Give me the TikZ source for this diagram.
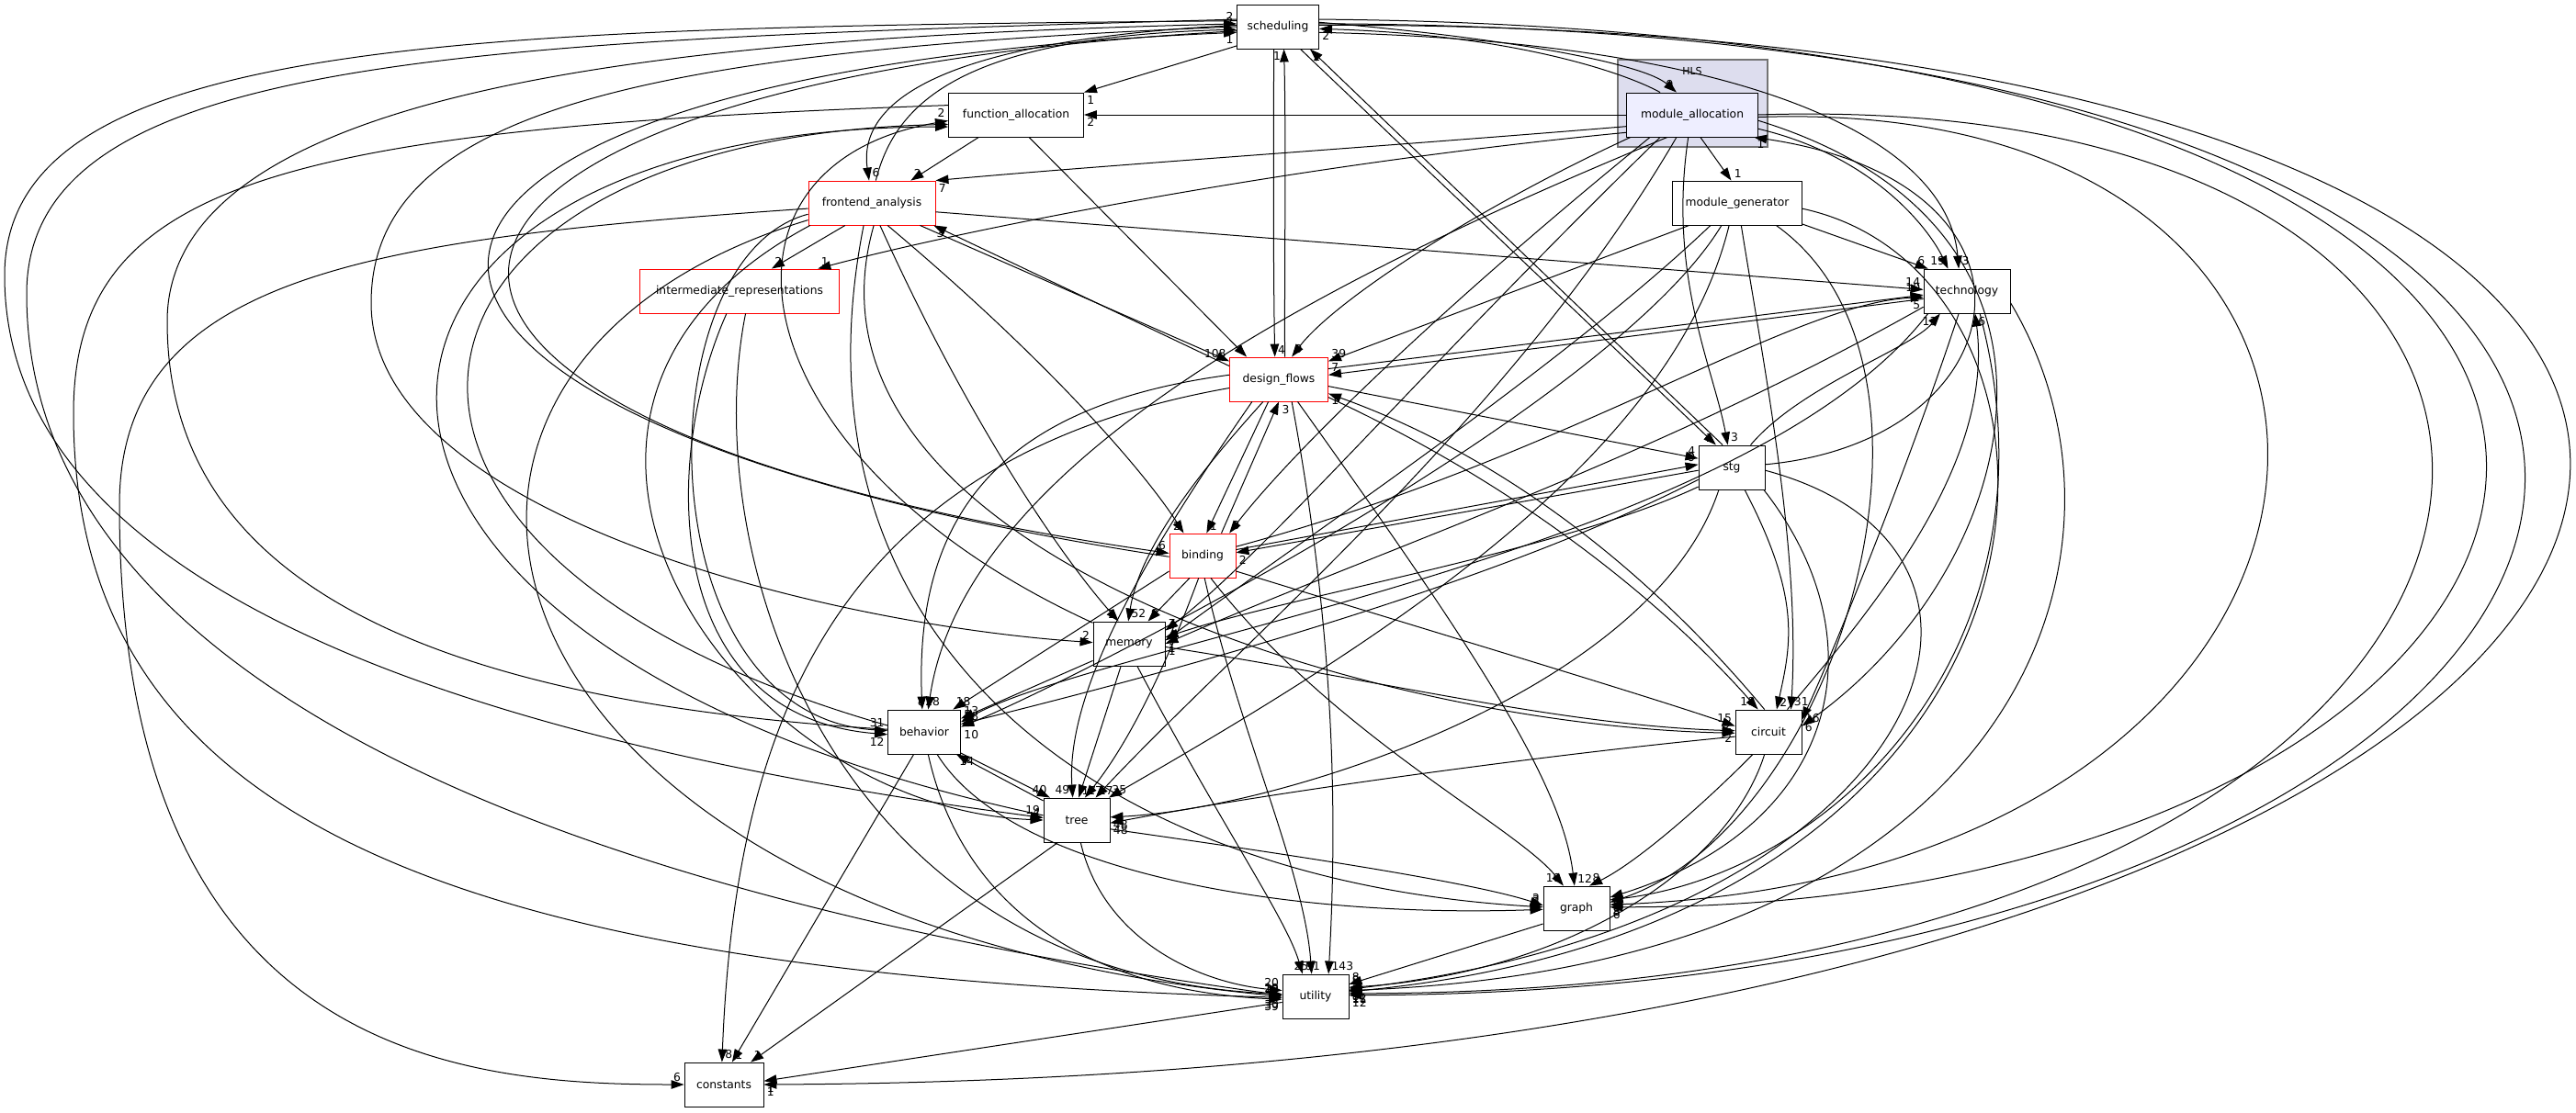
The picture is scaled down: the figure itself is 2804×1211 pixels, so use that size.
\documentclass[tikz,border=0pt]{standalone}
\usepackage{fontspec}
\setmainfont{DejaVu Sans}
\usepackage{xcolor}
\usetikzlibrary{arrows.meta}

\definecolor{clusfill}{HTML}{DDDDEE}
\definecolor{modfill}{HTML}{EEEEFF}

\begin{document}
\begin{tikzpicture}[x=1pt, y=-1pt,
	box/.style={draw, line width=0.9pt, minimum height=48pt, inner sep=2pt, font=\fontsize{12.3}{14}\selectfont},
	redbox/.style={box, draw=red},
	arr/.style={-{Triangle[length=14pt, width=9.5pt]}, line width=1pt},
	lbl/.style={font=\fontsize{12.3}{14}\selectfont, inner sep=3pt},
	clus/.style={fill=clusfill, draw=black!55, line width=1.2pt}
	]
	\useasboundingbox (0,0) rectangle (2804,1211);

	% ==========================================
	% HLS cluster
	% ==========================================
	\draw[clus] (1761,65) rectangle (1924,160);
	\node[font=\fontsize{11}{13}\selectfont] (hls) at (1842,77) {HLS};

	% -- directories --
	\node[box, minimum width=89pt] (S) at (1391,29) {scheduling};
	\node[box, fill=modfill, minimum width=143pt] (MA) at (1842,125) {module\_allocation};
	\node[box, minimum width=147pt] (FA) at (1106,125) {function\_allocation};
	\node[redbox, minimum width=138pt] (FE) at (949,221) {frontend\_analysis};
	\node[redbox, minimum width=217pt] (IR) at (805,317) {intermediate\_representations};
	\node[box, minimum width=141pt] (MG) at (1891,221) {module\_generator};
	\node[box, minimum width=94pt] (T) at (2141,317) {technology};
	\node[redbox, minimum width=107pt] (DF) at (1392,413) {design\_flows};
	\node[box, minimum width=72pt] (ST) at (1885,509) {stg};
	\node[redbox, minimum width=72pt] (B) at (1309,605) {binding};
	\node[box, minimum width=78pt] (M) at (1229,701) {memory};
	\node[box, minimum width=79pt] (BH) at (1006,797) {behavior};
	\node[box, minimum width=72pt] (C) at (1925,797) {circuit};
	\node[box, minimum width=72pt] (TR) at (1172,893) {tree};
	\node[box, minimum width=72pt] (G) at (1716,989) {graph};
	\node[box, minimum width=72pt] (U) at (1432,1085) {utility};
	\node[box, minimum width=86pt] (K) at (788,1181) {constants};

	% ==========================================
	% scheduling
	% ==========================================
	\draw[arr] (S.205) -- (FA.north east) node[lbl, pos=1, anchor=north west] {1};
	\draw[arr] (S.178) .. controls (1000,45) and (935,120) .. (FE.97) node[lbl, pos=1, anchor=south west] {6};
	\draw[arr] (FE.80) .. controls (975,110) and (1050,40) .. (S.184) node[lbl, pos=1, anchor=south east] {2};
	\draw[arr] (S.-100) .. controls (1386,150) and (1386,300) .. (DF.100) node[lbl, pos=1, anchor=south west] {4};
	\draw[arr] (DF.75) .. controls (1398,300) and (1400,150) .. (S.-75) node[lbl, pos=1, anchor=north east] {1};
	\draw[arr] (S.6) .. controls (1650,42) and (1790,70) .. (MA.125) node[lbl, pos=1, anchor=south east] {9};
	\draw[arr] (MA.145) .. controls (1770,80) and (1650,38) .. (S.-3) node[lbl, pos=1, anchor=north west] {2};
	\draw[arr] (S.-45) -- (ST.125) node[lbl, pos=1, anchor=south east] {1};
	\draw[arr] (ST.112) -- (S.-35) node[lbl, pos=1, anchor=north west] {2};
	\draw[arr] (S.-8) .. controls (1900,45) and (2120,150) .. (T.110) node[lbl, pos=1, anchor=south west] {3};
	% -- left loops --
	\draw[arr] (S.172) .. controls (500,30) and (5,40) .. (5,300) .. controls (5,620) and (450,800) .. (TR.176) node[lbl, pos=1, anchor=south east] {19};
	\draw[arr] (S.170) .. controls (500,45) and (29,60) .. (29,320) .. controls (29,700) and (500,960) .. (U.178) node[lbl, pos=1, anchor=south east] {29};
	\draw[arr] (B.182) .. controls (250,450) and (300,80) .. (S.188) node[lbl, pos=1, anchor=north east] {1};
	\draw[arr] (S.186) .. controls (330,90) and (280,460) .. (B.176) node[lbl, pos=1, anchor=south east] {6};
	\draw[arr] (BH.176) .. controls (400,760) and (182,600) .. (182,350) .. controls (182,80) and (800,40) .. (S.176) node[lbl, pos=1, anchor=south east] {2};
	\draw[arr] (S.180) .. controls (700,55) and (404,120) .. (404,330) .. controls (404,560) and (900,680) .. (M.178) node[lbl, pos=1, anchor=south east] {2};
	% -- right loops --
	\draw[arr] (S.2) .. controls (3500,20) and (3150,1170) .. (K.0) node[lbl, pos=1, anchor=north west] {1};
	\draw[arr] (S.4) .. controls (3350,30) and (3000,1080) .. (U.2) node[lbl, pos=1, anchor=north west] {12};
	\draw[arr] (S.10) .. controls (3250,35) and (2900,990) .. (G.2) node[lbl, pos=1, anchor=north west] {6};

	% ==========================================
	% module_allocation
	% ==========================================
	\draw[arr] (MA.180) -- (FA.0) node[lbl, pos=1, anchor=north west] {2};
	\draw[arr] (MA.190) .. controls (1500,160) and (1200,180) .. (FE.north east) node[lbl, pos=1, anchor=north west] {7};
	\draw[arr] (MA.195) .. controls (1400,180) and (1050,250) .. (IR.16) node[lbl, pos=1, anchor=south west] {1};
	\draw[arr] (MA.-70) -- (MG.105) node[lbl, pos=1, anchor=south west] {1};
	\draw[arr] (MA.-12) .. controls (2040,170) and (2100,250) .. (T.130) node[lbl, pos=1, anchor=south east] {19};
	\draw[arr] (MA.200) .. controls (1600,230) and (1450,330) .. (DF.60) node[lbl, pos=1, anchor=south west] {9};
	\draw[arr] (MA.-100) .. controls (1815,300) and (1865,400) .. (ST.100) node[lbl, pos=1, anchor=south west] {3};
	\draw[arr] (MA.208) .. controls (1550,350) and (1400,500) .. (B.40) node[lbl, pos=1, anchor=south west] {3};
	\draw[arr] (MA.215) .. controls (1550,400) and (1380,600) .. (M.20) node[lbl, pos=1, anchor=south west] {7};
	\draw[arr] (MA.222) .. controls (1450,300) and (1050,500) .. (BH.80) node[lbl, pos=1, anchor=south east] {8};
	\draw[arr] (MA.-5) .. controls (2300,250) and (2200,620) .. (C.10) node[lbl, pos=1, anchor=south west] {16};
	\draw[arr] (MA.235) .. controls (1650,450) and (1350,700) .. (TR.50) node[lbl, pos=1, anchor=south west] {17};
	\draw[arr] (MA.-2) .. controls (2700,100) and (2650,950) .. (G.6) node[lbl, pos=1, anchor=north west] {8};
	\draw[arr] (MA.0) .. controls (3000,90) and (2900,1080) .. (U.5) node[lbl, pos=1, anchor=south west] {8};

	% ==========================================
	% function_allocation
	% ==========================================
	\draw[arr] (FA.211) -- (FE.30) node[lbl, pos=1, anchor=south west] {2};
	\draw[arr] (FA.-60) -- (DF.145) node[lbl, pos=1, anchor=south east] {4};
	\draw[arr] (FA.172) .. controls (300,140) and (80,200) .. (80,450) .. controls (80,900) and (500,1060) .. (U.182) node[lbl, pos=1, anchor=north east] {30};
	\draw[arr] (M.150) .. controls (800,500) and (750,180) .. (FA.185) node[lbl, pos=1, anchor=south east] {2};
	\draw[arr] (BH.170) .. controls (300,600) and (400,150) .. (FA.188);
	\draw[arr] (TR.172) .. controls (250,700) and (300,140) .. (FA.190);

	% ==========================================
	% frontend_analysis
	% ==========================================
	\draw[arr] (FE.220) -- (IR.35) node[lbl, pos=1, anchor=south west] {2};
	\draw[arr] (FE.-25) -- (DF.160) node[lbl, pos=1, anchor=south east] {108};
	\draw[arr] (DF.165) -- (FE.-20) node[lbl, pos=1, anchor=north west] {3};
	\draw[arr] (FE.-8) -- (T.178) node[lbl, pos=1, anchor=south east] {14};
	\draw[arr] (FE.-55) .. controls (1150,400) and (1250,520) .. (B.130) node[lbl, pos=1, anchor=south east] {2};
	\draw[arr] (FE.-70) .. controls (1050,450) and (1150,600) .. (M.115) node[lbl, pos=1, anchor=south east] {2};
	\draw[arr] (FE.185) .. controls (400,260) and (130,300) .. (130,550) .. controls (130,1150) and (500,1181) .. (K.180) node[lbl, pos=1, anchor=south east] {6};
	\draw[arr] (FE.190) .. controls (700,280) and (700,780) .. (BH.178) node[lbl, pos=1, anchor=south east] {31};
	\draw[arr] (FE.195) .. controls (350,400) and (500,1000) .. (U.180) node[lbl, pos=1, anchor=south east] {10};
	\draw[arr] (FE.200) .. controls (500,450) and (800,880) .. (TR.180) node[lbl, pos=1, anchor=south east] {4};
	\draw[arr] (FE.250) .. controls (850,700) and (1200,960) .. (G.178) node[lbl, pos=1, anchor=south east] {2};
	\draw[arr] (FE.-85) .. controls (850,600) and (1500,790) .. (C.182) node[lbl, pos=1, anchor=south east] {2};

	% -- intermediate_representations --
	\draw[arr] (IR.240) .. controls (720,500) and (720,780) .. (BH.184) node[lbl, pos=1, anchor=north east] {12};
	\draw[arr] (IR.-75) .. controls (760,600) and (900,1060) .. (U.176);

	% ==========================================
	% module_generator
	% ==========================================
	\draw[arr] (MG.-18) -- (T.150) node[lbl, pos=1, anchor=south east] {6};
	\draw[arr] (MG.205) -- (DF.20) node[lbl, pos=1, anchor=south west] {39};
	\draw[arr] (MG.220) .. controls (1700,400) and (1400,600) .. (M.5) node[lbl, pos=1, anchor=north west] {1};
	\draw[arr] (MG.235) .. controls (1750,450) and (1150,750) .. (BH.8) node[lbl, pos=1, anchor=north west] {10};
	\draw[arr] (MG.250) .. controls (1820,500) and (1500,700) .. (TR.35) node[lbl, pos=1, anchor=south west] {35};
	\draw[arr] (MG.-80) .. controls (1920,400) and (1960,600) .. (C.45) node[lbl, pos=1, anchor=south west] {31};
	\draw[arr] (MG.-30) .. controls (2150,400) and (2000,900) .. (G.10) node[lbl, pos=1, anchor=north west] {3};
	\draw[arr] (MG.-5) .. controls (2300,300) and (2300,1000) .. (U.8) node[lbl, pos=1, anchor=north west] {11};

	% ==========================================
	% technology
	% ==========================================
	\draw[arr] (T.190) -- (DF.5) node[lbl, pos=1, anchor=south west] {7};
	\draw[arr] (DF.12) -- (T.185) node[lbl, pos=1, anchor=south east] {10};
	\draw[arr] (T.-150) .. controls (1900,600) and (1200,700) .. (BH.15) node[lbl, pos=1, anchor=south west] {5};
	\draw[arr] (T.-110) .. controls (2080,500) and (2000,700) .. (C.20) node[lbl, pos=1, anchor=north west] {6};
	\draw[arr] (C.50) .. controls (2050,650) and (2170,500) .. (T.-70) node[lbl, pos=1, anchor=north west] {6};
	\draw[arr] (T.-60) .. controls (2250,700) and (2000,950) .. (G.14) node[lbl, pos=1, anchor=north west] {8};
	\draw[arr] (T.-15) .. controls (2350,600) and (2200,1050) .. (U.10) node[lbl, pos=1, anchor=north west] {12};
	\draw[arr] (T.200) .. controls (1800,500) and (1500,600) .. (M.0) node[lbl, pos=1, anchor=north west] {1};

	% ==========================================
	% design_flows
	% ==========================================
	\draw[arr] (DF.-115) -- (B.80) node[lbl, pos=1, anchor=south west] {1};
	\draw[arr] (B.50) -- (DF.-90) node[lbl, pos=1, anchor=north west] {3};
	\draw[arr] (DF.-125) .. controls (1300,520) and (1240,600) .. (M.92) node[lbl, pos=1, anchor=south west] {52};
	\draw[arr] (DF.175) .. controls (1100,440) and (995,550) .. (BH.95) node[lbl, pos=1, anchor=south west] {28};
	\draw[arr] (DF.-140) .. controls (1250,600) and (1160,750) .. (TR.100) node[lbl, pos=1, anchor=south east] {49};
	\draw[arr] (DF.190) .. controls (900,500) and (800,800) .. (K.95) node[lbl, pos=1, anchor=south west] {8};
	\draw[arr] (DF.-60) .. controls (1455,700) and (1455,900) .. (U.60) node[lbl, pos=1, anchor=south west] {143};
	\draw[arr] (DF.-8) -- (ST.165) node[lbl, pos=1, anchor=south east] {4};
	\draw[arr] (DF.-20) .. controls (1700,550) and (1850,700) .. (C.115) node[lbl, pos=1, anchor=south east] {18};
	\draw[arr] (C.100) .. controls (1860,700) and (1700,520) .. (DF.-16) node[lbl, pos=1, anchor=north west] {1};
	\draw[arr] (DF.-50) .. controls (1600,700) and (1700,850) .. (G.95) node[lbl, pos=1, anchor=south west] {12};

	% ==========================================
	% stg
	% ==========================================
	\draw[arr] (ST.185) -- (B.5) node[lbl, pos=1, anchor=north west] {2};
	\draw[arr] (B.10) -- (ST.175) node[lbl, pos=1, anchor=south east] {9};
	\draw[arr] (ST.50) .. controls (1960,420) and (2080,380) .. (T.-140) node[lbl, pos=1, anchor=north east] {13};
	\draw[arr] (ST.5) .. controls (2200,480) and (2250,200) .. (MA.-20) node[lbl, pos=1, anchor=north west] {1};
	\draw[arr] (ST.200) .. controls (1600,650) and (1200,750) .. (BH.12) node[lbl, pos=1, anchor=south west] {18};
	\draw[arr] (ST.-120) .. controls (1800,750) and (1400,880) .. (TR.5) node[lbl, pos=1, anchor=north west] {48};
	\draw[arr] (ST.-60) .. controls (1960,650) and (1950,700) .. (C.70) node[lbl, pos=1, anchor=south west] {2};
	\draw[arr] (ST.-35) .. controls (2050,700) and (2000,900) .. (G.18) node[lbl, pos=1, anchor=north west] {6};
	\draw[arr] (ST.-5) .. controls (2250,600) and (2100,1000) .. (U.12) node[lbl, pos=1, anchor=north west] {8};
	\draw[arr] (ST.210) .. controls (1700,600) and (1400,650) .. (M.10) node[lbl, pos=1, anchor=south west] {7};

	% ==========================================
	% binding
	% ==========================================
	\draw[arr] (B.-120) -- (M.50) node[lbl, pos=1, anchor=south west] {9};
	\draw[arr] (B.205) -- (BH.38) node[lbl, pos=1, anchor=south west] {18};
	\draw[arr] (B.-100) .. controls (1260,750) and (1220,820) .. (TR.70) node[lbl, pos=1, anchor=south west] {17};
	\draw[arr] (B.-25) .. controls (1600,700) and (1800,760) .. (C.170) node[lbl, pos=1, anchor=south east] {15};
	\draw[arr] (B.-70) .. controls (1450,800) and (1650,900) .. (G.120) node[lbl, pos=1, anchor=south east] {10};
	\draw[arr] (B.15) .. controls (1700,500) and (1950,330) .. (T.188) node[lbl, pos=1, anchor=north east] {5};
	\draw[arr] (B.-85) .. controls (1350,800) and (1420,950) .. (U.100) node[lbl, pos=1, anchor=south east] {25};

	% -- memory --
	\draw[arr] (M.205) -- (BH.20) node[lbl, pos=1, anchor=south west] {13};
	\draw[arr] (M.-110) -- (TR.85) node[lbl, pos=1, anchor=south west] {17};
	\draw[arr] (M.-5) .. controls (1500,740) and (1700,790) .. (C.178) node[lbl, pos=1, anchor=north east] {2};
	\draw[arr] (M.-70) .. controls (1330,900) and (1400,1000) .. (U.120) node[lbl, pos=1, anchor=south west] {91};

	% -- behavior --
	\draw[arr] (BH.-30) -- (TR.140) node[lbl, pos=1, anchor=south east] {40};
	\draw[arr] (TR.150) -- (BH.-35) node[lbl, pos=1, anchor=north west] {14};
	\draw[arr] (BH.-115) -- (K.70) node[lbl, pos=1, anchor=south west] {1};
	\draw[arr] (BH.-80) .. controls (1050,1000) and (1200,1080) .. (U.185) node[lbl, pos=1, anchor=north east] {39};
	\draw[arr] (BH.-60) .. controls (1100,950) and (1400,1000) .. (G.182) node[lbl, pos=1, anchor=south east] {2};

	% -- circuit --
	\draw[arr] (C.188) .. controls (1700,820) and (1400,860) .. (TR.-5) node[lbl, pos=1, anchor=north west] {48};
	\draw[arr] (C.-125) .. controls (1850,880) and (1780,940) .. (G.60) node[lbl, pos=1, anchor=south west] {8};
	\draw[arr] (C.-100) .. controls (1880,950) and (1700,1060) .. (U.15) node[lbl, pos=1, anchor=south west] {8};

	% -- tree, graph, utility --
	\draw[arr] (TR.-130) -- (K.40) node[lbl, pos=1, anchor=south west] {1};
	\draw[arr] (TR.-80) .. controls (1200,1020) and (1300,1070) .. (U.170) node[lbl, pos=1, anchor=south east] {20};
	\draw[arr] (TR.-15) .. controls (1400,930) and (1600,960) .. (G.175) node[lbl, pos=1, anchor=south east] {2};
	\draw[arr] (G.205) -- (U.20) node[lbl, pos=1, anchor=south west] {8};
	\draw[arr] (U.190) -- (K.5) node[lbl, pos=1, anchor=north west] {1};

\end{tikzpicture}
\end{document}
